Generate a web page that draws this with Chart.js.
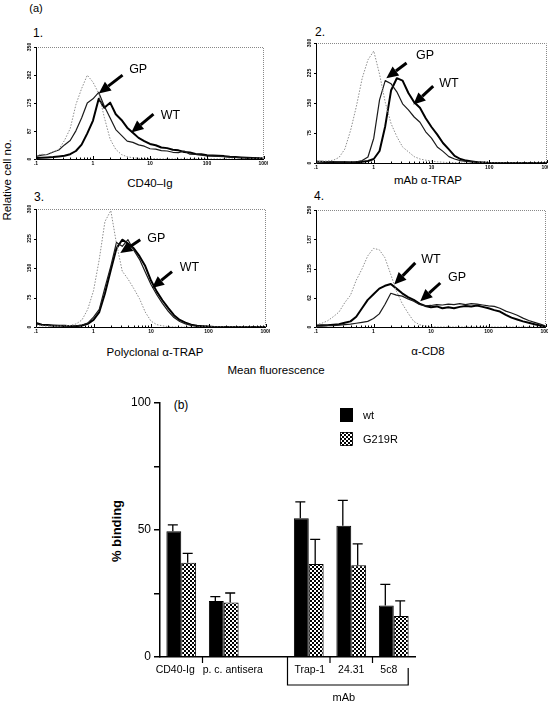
<!DOCTYPE html>
<html><head><meta charset="utf-8">
<script src="https://cdn.jsdelivr.net/npm/chart.js@4.4.1/dist/chart.umd.min.js"></script>
<style>
html,body{margin:0;padding:0;background:#fff;width:548px;height:706px;overflow:hidden;font-family:"Liberation Sans",Arial,sans-serif;color:#000}
canvas{position:absolute}
.t{position:absolute;white-space:nowrap;font-size:11px;line-height:1;transform:translate(-50%,-50%)}
.l{position:absolute;white-space:nowrap;font-size:12px;line-height:1}
.r{transform:translate(-50%,-50%) rotate(-90deg)}
</style></head><body>
<div class="t" style="left:36px;top:8px;font-size:11px">(a)</div>
<div class="l" style="left:33px;top:27px">1.</div>
<div class="l" style="left:315px;top:26px">2.</div>
<div class="l" style="left:34px;top:191px">3.</div>
<div class="l" style="left:314px;top:190px">4.</div>
<div class="t" style="left:150px;top:184px;font-size:11.5px">CD40–Ig</div>
<div class="t" style="left:428px;top:181px;font-size:11.5px">mAb α-TRAP</div>
<div class="t" style="left:155px;top:353px;font-size:11.5px">Polyclonal α-TRAP</div>
<div class="t" style="left:428px;top:352px;font-size:11.5px">α-CD8</div>
<div class="t" style="left:276px;top:371px;font-size:11.5px">Mean fluorescence</div>
<div class="t r" style="left:8px;top:180px;font-size:11.5px">Relative cell no.</div>
<div class="t" style="left:181px;top:405px;font-size:12px">(b)</div>
<div class="t r" style="left:116px;top:531px;font-size:13px;font-weight:bold">% binding</div>

<canvas id="h1"></canvas><canvas id="h2"></canvas><canvas id="h3"></canvas><canvas id="h4"></canvas>
<canvas id="bars" width="448" height="316" style="left:100px;top:390px"></canvas>
<script>
// ---------- Panel (a) data: fluorescence channels (log scale) ----------
const fluorX = [0.1,0.126,0.158,0.2,0.251,0.316,0.398,0.501,0.631,0.794,1,1.26,1.58,2,2.51,3.16,3.98,5.01,6.31,7.94,10,12.6,15.8,20,25.1,31.6,39.8,50.1,63.1,79.4,100,126,158,200,251,316,398,501,631,794,1000];
const xTickVals = [0.1, 1, 10, 100, 1000];
const xTickLabels = ['.1', '1', '10', '100', '1000'];

// 1. CD40-Ig
const p1Ctrl = [10,15,13,22,30,58,95,170,220,262,240,205,130,62,30,14,7,4,2,1,1,1,0,0,0,0,0,0,0,0,0,0,0,0,0,0,0,0,0,0,0];
const p1GP   = [8,12,14,22,28,44,58,88,128,175,188,208,165,128,92,74,56,52,44,40,32,31,26,25,21,20,25,15,14,12,10,9,8,7,6,5,4,3,3,2,1];
const p1WT   = [3,4,5,6,8,10,15,25,45,80,120,188,160,176,140,122,98,82,66,56,47,43,36,34,29,27,22,20,16,15,12,11,10,9,7,6,5,4,3,2,1];
const p1YTicks = [0, 87, 175, 262, 350];

// 2. mAb alpha-TRAP
const p2Ctrl = [3,4,5,7,14,35,82,142,212,258,280,222,152,98,66,40,28,16,10,7,5,3,2,1,1,0,0,0,0,0,0,0,0,0,0,0,0,0,0,0,0];
const p2GP   = [4,3,3,3,2,2,2,3,6,15,62,158,206,198,178,148,133,115,102,78,62,40,29,16,10,6,4,3,2,1,0,0,0,0,0,0,0,0,0,0,0];
const p2WT   = [3,3,2,2,2,2,1,2,3,5,10,30,92,182,212,206,175,152,138,112,90,71,50,34,18,10,6,4,2,1,0,0,0,0,0,0,0,0,0,0,0];
const p2YTicks = [0, 75, 150, 225, 300];

// 3. Polyclonal alpha-TRAP
const p3Ctrl = [4,3,2,2,2,3,4,8,18,45,92,172,268,296,212,142,122,98,72,38,15,6,3,1,0,0,0,0,0,0,0,0,0,0,0,0,0,0,0,0,0];
const p3GP   = [8,5,4,3,3,2,2,3,5,10,25,45,100,155,215,205,222,195,172,140,108,82,60,40,24,14,8,4,2,1,0,0,0,0,0,0,0,0,0,0,0];
const p3WT   = [10,6,5,4,3,3,2,2,4,8,18,38,85,145,200,222,212,200,180,155,118,90,68,48,30,18,11,6,3,2,1,0,0,0,0,0,0,0,0,0,0];
const p3YTicks = [0, 75, 150, 225, 300];

// 4. alpha-CD8
const p4Ctrl = [5,8,13,22,32,52,68,100,124,152,168,165,148,112,76,50,30,12,5,2,1,0,0,0,0,0,0,0,0,0,0,0,0,0,0,0,0,0,0,0,0];
const p4GP   = [2,2,3,3,4,5,6,8,10,12,18,28,48,72,68,66,60,55,48,45,46,48,47,49,48,50,48,50,49,47,45,44,40,34,30,25,19,14,10,6,2];
const p4WT   = [3,4,4,5,6,9,12,22,40,58,70,82,88,92,82,72,64,58,50,45,42,44,40,42,40,43,45,44,46,43,40,36,33,26,20,16,12,9,6,3,1];
const p4YTicks = [0, 62, 125, 187, 250];

// ---------- Panel (b) data ----------
const barCats  = ['CD40-Ig', 'p. c. antisera', '', 'Trap-1', '24.31', '5c8'];
const wtVals   = [49.5, 22.0, null, 54.6, 51.7, 20.3];
const wtErr    = [2.5, 1.8, null, 6.5, 10.0, 8.3];
const g219Vals = [37.1, 21.5, null, 36.6, 36.1, 16.1];
const g219Err  = [3.7, 3.7, null, 9.7, 8.4, 6.0];
const barYTicks = [0, 25, 50, 75, 100];

// ---------- annotation arrows (in data units) ----------
const ann = {
  h1: {arrows: [{tip:[1.26,205], tail:[3.3,262]}, {tip:[4.7,83], tail:[11.5,140]}],
       notes: [{t:'GP', x:6.2, y:278}, {t:'WT', x:22.8, y:137}]},
  h2: {arrows: [{tip:[1.65,212], tail:[3.7,250]}, {tip:[4.85,146], tail:[10.7,192]}],
       notes: [{t:'GP', x:7.7, y:268}, {t:'WT', x:20, y:198}]},
  h3: {arrows: [{tip:[2.92,188], tail:[6.5,222]}, {tip:[10.4,99], tail:[23.2,141]}],
       notes: [{t:'GP', x:12.4, y:226}, {t:'WT', x:46.7, y:150}]},
  h4: {arrows: [{tip:[2.29,91], tail:[5.33,137]}, {tip:[6.5,55], tail:[14.5,94]}],
       notes: [{t:'WT', x:10, y:144}, {t:'GP', x:28.4, y:105}]}
};

// plot boxes (layout): left, top, right, bottom
const boxes = {h1:[36,47,264,159], h2:[316,43,547,163], h3:[36,209,266,327], h4:[316,210,546,327]};
// horizontal nudges of the category labels under panel (b) (layout)
const catLabelShift = [-6, 9, 0, 1, 0, -5];
const FONT = '"Liberation Sans", Arial, sans-serif';

const histPlugin = {
  id: 'hist',
  afterDatasetsDraw(chart, args, o) {
    const {ctx, chartArea: a, scales: {x, y}} = chart;
    ctx.save();
    ctx.lineWidth = 1;
    ctx.strokeStyle = '#888'; ctx.setLineDash([1, 1]);
    ctx.beginPath(); ctx.moveTo(a.left, a.top + 0.5); ctx.lineTo(a.right - 0.5, a.top + 0.5); ctx.lineTo(a.right - 0.5, a.bottom); ctx.stroke();
    ctx.setLineDash([]); ctx.strokeStyle = '#000';
    ctx.beginPath(); ctx.moveTo(a.left + 0.5, a.top); ctx.lineTo(a.left + 0.5, a.bottom + 0.5); ctx.lineTo(a.right, a.bottom + 0.5); ctx.stroke();
    ctx.beginPath();
    for (let d = -1; d <= 3; d++) for (let m = 1; m <= 9; m++) {
      const v = m * Math.pow(10, d); if (v < 0.1 || v > 1000) continue;
      const px = Math.round(x.getPixelForValue(v)) + 0.5;
      const L = m === 1 ? 3 : 1.5;
      ctx.moveTo(px, a.bottom); ctx.lineTo(px, a.bottom - L);
    }
    ctx.stroke();
    ctx.fillStyle = '#000'; ctx.font = 'bold 5px ' + FONT; ctx.textAlign = 'center'; ctx.textBaseline = 'middle';
    xTickVals.forEach((v, i) => ctx.fillText(xTickLabels[i], x.getPixelForValue(v), a.bottom + 5));
    ctx.beginPath();
    o.yTicks.forEach(v => { const py = Math.round(y.getPixelForValue(v)) + 0.5; ctx.moveTo(a.left, py); ctx.lineTo(a.left - 2, py); });
    ctx.stroke();
    o.yTicks.forEach(v => {
      ctx.save(); ctx.translate(a.left - 6, y.getPixelForValue(v)); ctx.rotate(-Math.PI / 2);
      ctx.fillText(String(v), 0, 0); ctx.restore();
    });
    o.ann.arrows.forEach(ar => {
      const tx = x.getPixelForValue(ar.tip[0]), ty = y.getPixelForValue(ar.tip[1]);
      const sx = x.getPixelForValue(ar.tail[0]), sy = y.getPixelForValue(ar.tail[1]);
      const ang = Math.atan2(ty - sy, tx - sx);
      const hl = 12, hw = 5.5;
      const bx = tx - hl * Math.cos(ang), by = ty - hl * Math.sin(ang);
      ctx.lineWidth = 3; ctx.lineCap = 'butt';
      ctx.beginPath(); ctx.moveTo(sx, sy); ctx.lineTo(bx, by); ctx.stroke();
      ctx.beginPath(); ctx.moveTo(tx, ty);
      ctx.lineTo(bx + hw * Math.sin(ang), by - hw * Math.cos(ang));
      ctx.lineTo(bx - hw * Math.sin(ang), by + hw * Math.cos(ang));
      ctx.closePath(); ctx.fill();
    });
    ctx.font = '12.5px ' + FONT;
    o.ann.notes.forEach(n => ctx.fillText(n.t, x.getPixelForValue(n.x), y.getPixelForValue(n.y)));
    ctx.restore();
  }
};

function makeHist(id, ctrl, gp, wt, yTicks) {
  const b = boxes[id]; const pad = {left: 14, top: 4, right: 4, bottom: 12};
  const cv = document.getElementById(id);
  cv.width = b[2] - b[0] + pad.left + pad.right; cv.height = b[3] - b[1] + pad.top + pad.bottom;
  cv.style.left = (b[0] - pad.left) + 'px'; cv.style.top = (b[1] - pad.top) + 'px';
  const pts = arr => fluorX.map((xv, i) => ({x: xv, y: arr[i]}));
  new Chart(cv, {
    type: 'line',
    data: {datasets: [
      {label: 'control', data: pts(ctrl), borderColor: '#8c8c8c', borderWidth: 1, borderDash: [1.5, 1.5]},
      {label: 'GP', data: pts(gp), borderColor: '#1a1a1a', borderWidth: 1.2},
      {label: 'WT', data: pts(wt), borderColor: '#000', borderWidth: 2}
    ]},
    options: {
      responsive: false, animation: false, devicePixelRatio: 1,
      layout: {padding: pad},
      elements: {point: {radius: 0}, line: {tension: 0, borderJoinStyle: 'round'}},
      plugins: {legend: {display: false}, tooltip: {enabled: false}, hist: {yTicks: yTicks, ann: ann[id]}},
      scales: {
        x: {type: 'logarithmic', min: 0.1, max: 1000, display: false},
        y: {min: 0, max: yTicks[yTicks.length - 1], display: false}
      }
    },
    plugins: [histPlugin]
  });
}
makeHist('h1', p1Ctrl, p1GP, p1WT, p1YTicks);
makeHist('h2', p2Ctrl, p2GP, p2WT, p2YTicks);
makeHist('h3', p3Ctrl, p3GP, p3WT, p3YTicks);
makeHist('h4', p4Ctrl, p4GP, p4WT, p4YTicks);

// ---------- Panel (b) ----------
const bcv = document.getElementById('bars');
const pc = document.createElement('canvas'); pc.width = 4; pc.height = 4;
const pg = pc.getContext('2d'); pg.fillStyle = '#fff'; pg.fillRect(0, 0, 4, 4);
pg.fillStyle = '#000'; pg.fillRect(0, 0, 2, 2); pg.fillRect(2, 2, 2, 2);
const checker = bcv.getContext('2d').createPattern(pc, 'repeat');

const barPlugin = {
  id: 'errs',
  afterDatasetsDraw(chart, args, o) {
    const {ctx, chartArea: a, scales: {x, y}} = chart;
    ctx.save(); ctx.strokeStyle = '#000'; ctx.fillStyle = '#000';
    ctx.lineWidth = 1.3;
    chart.data.datasets.forEach((ds, di) => {
      const errs = o.errors[di];
      chart.getDatasetMeta(di).data.forEach((bar, i) => {
        if (ds.data[i] == null) return;
        const top = y.getPixelForValue(ds.data[i] + errs[i]);
        const bx = bar.x - 1;
        ctx.beginPath(); ctx.moveTo(bx, bar.y); ctx.lineTo(bx, top);
        ctx.moveTo(bx - 5, top); ctx.lineTo(bx + 5, top); ctx.stroke();
      });
    });
    const p = i => x.getPixelForValue(i);
    const bnd = i => (p(i) + p(i + 1)) / 2;
    const base = a.bottom;
    // category labels
    ctx.font = '10.5px ' + FONT; ctx.textAlign = 'center'; ctx.textBaseline = 'middle';
    chart.data.labels.forEach((lab, i) => { if (lab) ctx.fillText(lab, p(i) + catLabelShift[i], base + 13); });
    ctx.lineWidth = 1.2;
    ctx.beginPath();
    [0, 3, 4].forEach(i => { ctx.moveTo(bnd(i), base); ctx.lineTo(bnd(i), base + 6); });
    const bl = bnd(2), br = p(5) + (p(5) - p(4)) * 0.34;
    ctx.moveTo(bl, base); ctx.lineTo(bl, base + 28); ctx.lineTo(br, base + 28); ctx.lineTo(br, base + 11);
    ctx.stroke();
    ctx.font = '11px ' + FONT;
    ctx.fillText('mAb', (bl + br) / 2 - 4, base + 41);
    // legend
    ctx.textAlign = 'left';
    chart.data.datasets.forEach((ds, di) => {
      const ly = 18 + di * 24;
      ctx.fillStyle = ds.backgroundColor; ctx.fillRect(240, ly, 13, 14);
      ctx.strokeStyle = '#000'; ctx.lineWidth = 0.8; ctx.strokeRect(240.5, ly + 0.5, 12, 13);
      ctx.fillStyle = '#000'; ctx.fillText(ds.label, 263, ly + 7.5);
    });
    ctx.restore();
  }
};

new Chart(bcv, {
  type: 'bar',
  data: {labels: barCats, datasets: [
    {label: 'wt', data: wtVals, backgroundColor: '#000', borderColor: '#000', borderWidth: 1},
    {label: 'G219R', data: g219Vals, backgroundColor: checker, borderColor: '#000', borderWidth: 1}
  ]},
  options: {
    responsive: false, animation: false, devicePixelRatio: 1,
    layout: {padding: {left: 0, top: 13, right: 133, bottom: 0}},
    datasets: {bar: {categoryPercentage: 0.7, barPercentage: 1.0}},
    plugins: {legend: {display: false}, tooltip: {enabled: false}, errs: {errors: [wtErr, g219Err]}},
    scales: {
      x: {grid: {display: false, drawTicks: false}, border: {display: true, color: '#000', width: 1.5},
          ticks: {display: false},
          afterFit(s) { s.height = 49; }},
      y: {min: 0, max: 100, afterBuildTicks(s) { s.ticks = barYTicks.map(v => ({value: v})); },
          ticks: {callback: v => (v % 50 === 0 ? v : ''), font: {size: 12, family: FONT}, color: '#000', padding: 3},
          grid: {drawOnChartArea: false, tickLength: 6, color: '#000', lineWidth: 1.5},
          border: {color: '#000', width: 1.5},
          afterFit(s) { s.width = 60; }}
    }
  },
  plugins: [barPlugin]
});
</script>
</body></html>
